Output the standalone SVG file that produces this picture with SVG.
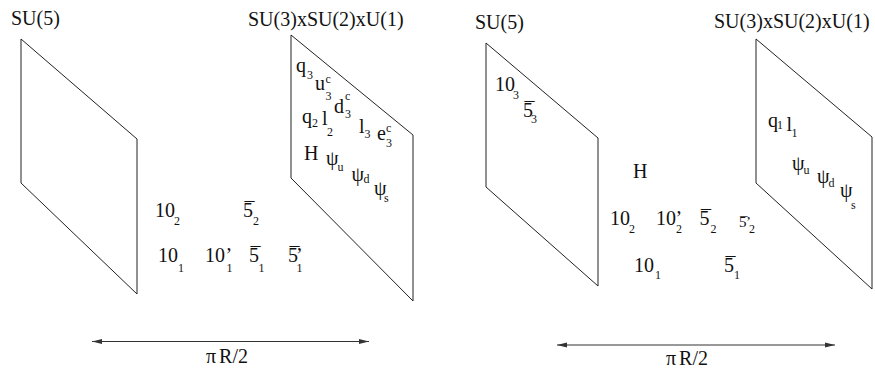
<svg xmlns="http://www.w3.org/2000/svg" width="875" height="373" viewBox="0 0 875 373">
<defs>
<style>
text{font-family:"Liberation Serif","Times New Roman",serif;font-size:20px;fill:#111}
.s{font-size:12px}
.p{font-size:20px}
.brane{fill:none;stroke:#222;stroke-width:1}
.dim{stroke:#333;stroke-width:1;fill:none}
</style>
<marker id="ah" viewBox="0 0 10 6" refX="10" refY="3" markerWidth="10" markerHeight="6" markerUnits="userSpaceOnUse" orient="auto-start-reverse">
<path d="M0,0.6 L10,3 L0,5.4 Z" fill="#333"/>
</marker>
</defs>
<rect width="875" height="373" fill="#fff"/>

<!-- Left panel -->
<g id="left-su5">
<polygon class="brane" points="21,39 137,139 137,294 21,183"/>
<text x="11" y="25">SU(5)</text>
</g>
<g id="left-sm">
<polygon class="brane" points="291,35 413,135 413,301 291,178"/>
<text x="248" y="26">SU(3)xSU(2)xU(1)</text>
<text x="296" y="72">q<tspan class="s" x="307" y="79">3</tspan></text>
<text x="315" y="90">u<tspan class="s" x="325.5" y="83">c</tspan><tspan class="s" x="325.5" y="100">3</tspan></text>
<text x="334" y="112.5">d<tspan class="s" x="345" y="100">c</tspan><tspan class="s" x="345" y="118">3</tspan></text>
<text x="302" y="123">q<tspan class="s" x="312" y="127">2</tspan></text>
<text x="322" y="125">l<tspan class="s" x="327" y="136">2</tspan></text>
<text x="359" y="133">l<tspan class="s" x="364.5" y="138">3</tspan></text>
<text x="377" y="140">e<tspan class="s" x="386" y="132">c</tspan><tspan class="s" x="386" y="147">3</tspan></text>
<text x="304" y="160">H</text>
<text class="p" x="326" y="165">ψ<tspan class="s" x="337.5" y="171">u</tspan></text>
<text class="p" x="351.5" y="181">ψ<tspan class="s" x="363.5" y="183">d</tspan></text>
<text class="p" x="374" y="195">ψ<tspan class="s" x="384" y="202">s</tspan></text>
</g>
<g id="left-bulk">
<text x="155" y="217">10<tspan class="s" x="174" y="225">2</tspan></text>
<text x="243" y="217">5<tspan x="244.5" y="217">¯</tspan><tspan class="s" x="253" y="225">2</tspan></text>
<text x="158" y="262">10<tspan class="s" x="178" y="272">1</tspan></text>
<text x="205" y="262">10<tspan x="225.5" y="262">’</tspan><tspan class="s" x="226.5" y="272">1</tspan></text>
<text x="249" y="262">5<tspan x="250.5" y="262">¯</tspan><tspan class="s" x="258.5" y="272">1</tspan></text>
<text x="288" y="262">5<tspan x="289.5" y="262">¯</tspan><tspan x="296" y="262">’</tspan><tspan class="s" x="296.5" y="272">1</tspan></text>
</g>

<!-- Right panel -->
<g id="right-su5">
<polygon class="brane" points="486,43 598,138 598,286 486,187"/>
<text x="475" y="29">SU(5)</text>
<text x="495" y="91">10<tspan class="s" x="513" y="99">3</tspan></text>
<text x="523" y="117">5<tspan x="524.5" y="117">¯</tspan><tspan class="s" x="531" y="123">3</tspan></text>
</g>
<g id="right-sm">
<polygon class="brane" points="756,39 872,137 872,289 756,183"/>
<text x="714" y="28">SU(3)xSU(2)xU(1)</text>
<text x="768" y="127">q<tspan class="s" x="777" y="129">1</tspan></text>
<text x="786.5" y="131">l<tspan class="s" x="791.5" y="137">1</tspan></text>
<text class="p" x="792" y="170">ψ<tspan class="s" x="803.5" y="174">u</tspan></text>
<text class="p" x="817" y="183">ψ<tspan class="s" x="828.5" y="187">d</tspan></text>
<text class="p" x="840" y="196.5">ψ<tspan class="s" x="851" y="209">s</tspan></text>
</g>
<g id="right-bulk">
<text x="633" y="178">H</text>
<text x="610" y="225">10<tspan class="s" x="629" y="233">2</tspan></text>
<text x="656" y="225">10<tspan x="675.5" y="225">’</tspan><tspan class="s" x="676" y="233">2</tspan></text>
<text x="699.5" y="225">5<tspan x="701" y="225">¯</tspan><tspan class="s" x="710.5" y="233">2</tspan></text>
<text style="font-size:15px" x="739" y="227">5<tspan x="740" y="227">¯</tspan><tspan x="746" y="227">’</tspan><tspan class="s" x="749" y="233">2</tspan></text>
<text x="634" y="272">10<tspan class="s" x="655" y="279">1</tspan></text>
<text x="724" y="272">5<tspan x="725.5" y="272">¯</tspan><tspan class="s" x="734" y="279">1</tspan></text>
</g>

<g id="connectors">
<line class="dim" x1="92" y1="341.5" x2="369" y2="341.5" marker-start="url(#ah)" marker-end="url(#ah)"/>
<line class="dim" x1="557" y1="345" x2="835" y2="345" marker-start="url(#ah)" marker-end="url(#ah)"/>
</g>
<g id="labels">
<text x="206" y="363">π<tspan dx="3">R/2</tspan></text>
<text x="666" y="365">π<tspan dx="3">R/2</tspan></text>
</g>
</svg>
